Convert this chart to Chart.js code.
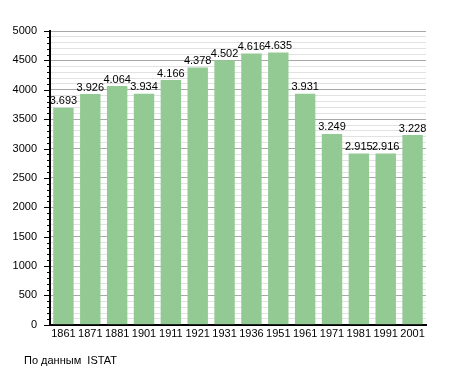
<!DOCTYPE html>
<html>
<head>
<meta charset="utf-8">
<script src="https://cdn.jsdelivr.net/npm/chart.js@4/dist/chart.umd.min.js"></script>
<style>
  html, body { margin: 0; padding: 0; background: #fff; }
  #wrap { position: relative; width: 455px; height: 373px; }
  #source { position: absolute; left: 24px; top: 354px; font: 11px "Liberation Sans", Arial, sans-serif; color: #000; }
</style>
</head>
<body>
<div id="wrap">
  <canvas id="chart" width="455" height="373"></canvas>
  <div id="source">По данным&nbsp; ISTAT</div>
</div>
<script>
'use strict';

// Census years and population
const years = ['1861', '1871', '1881', '1901', '1911', '1921', '1931', '1936', '1951', '1961', '1971', '1981', '1991', '2001'];
const population = [3693, 3926, 4064, 3934, 4166, 4378, 4502, 4616, 4635, 3931, 3249, 2915, 2916, 3228];
const yTicks = [0, 500, 1000, 1500, 2000, 2500, 3000, 3500, 4000, 4500, 5000];

const barColor = '#93c993';
const font = '"Liberation Sans", Arial, sans-serif';

function fmt(v) {
  return String(v).replace(/\B(?=(\d{3})+(?!\d))/g, '.');
}

// values above bars
const barLabels = {
  id: 'barLabels',
  afterDatasetsDraw(chart) {
    const ctx = chart.ctx;
    const meta = chart.getDatasetMeta(0);
    ctx.save();
    ctx.font = '11px ' + font;
    ctx.fillStyle = '#000';
    ctx.textAlign = 'center';
    ctx.textBaseline = 'bottom';
    meta.data.forEach((bar, i) => {
      ctx.fillText(fmt(population[i]), bar.x, bar.y - 1);
    });
    ctx.restore();
  }
};

// left axis tick marks, long for labelled values, short for minor ones
const axisTicks = {
  id: 'axisTicks',
  afterDraw(chart) {
    const ctx = chart.ctx;
    const y = chart.scales.y;
    const x0 = chart.chartArea.left;
    ctx.save();
    ctx.strokeStyle = '#000';
    ctx.lineWidth = 1;
    for (let v = 0; v <= 5000; v += 100) {
      const py = Math.round(y.getPixelForValue(v)) + 0.5;
      const len = yTicks.includes(v) ? 6 : 3;
      ctx.beginPath();
      ctx.moveTo(x0 - len, py);
      ctx.lineTo(x0, py);
      ctx.stroke();
    }
    ctx.restore();
  }
};

new Chart(document.getElementById('chart'), {
  type: 'bar',
  data: {
    labels: years,
    datasets: [{
      data: population,
      backgroundColor: barColor,
      borderWidth: 0,
      categoryPercentage: 1,
      barPercentage: 0.76
    }]
  },
  options: {
    responsive: false,
    animation: false,
    layout: { padding: { top: 31, right: 29, left: 0, bottom: 29 } },
    plugins: {
      legend: { display: false },
      tooltip: { enabled: false }
    },
    scales: {
      x: {
        grid: { display: false, drawTicks: false },
        border: { color: '#000', width: 2 },
        ticks: { color: '#000', font: { family: font, size: 11 }, padding: 3, maxRotation: 0, autoSkip: false }
      },
      y: {
        min: 0,
        max: 5000,
        afterFit(scale) { scale.width = 50; },
        grid: {
          drawTicks: false,
          color: c => (c.tick && c.tick.value % 500 === 0) ? '#a8a8a8' : '#e2e2e2'
        },
        border: { color: '#000', width: 2 },
        ticks: {
          stepSize: 100,
          autoSkip: false,
          color: '#000',
          font: { family: font, size: 11 },
          padding: 13,
          callback: v => yTicks.includes(v) ? v : ''
        }
      }
    }
  },
  plugins: [barLabels, axisTicks]
});
</script>
</body>
</html>
